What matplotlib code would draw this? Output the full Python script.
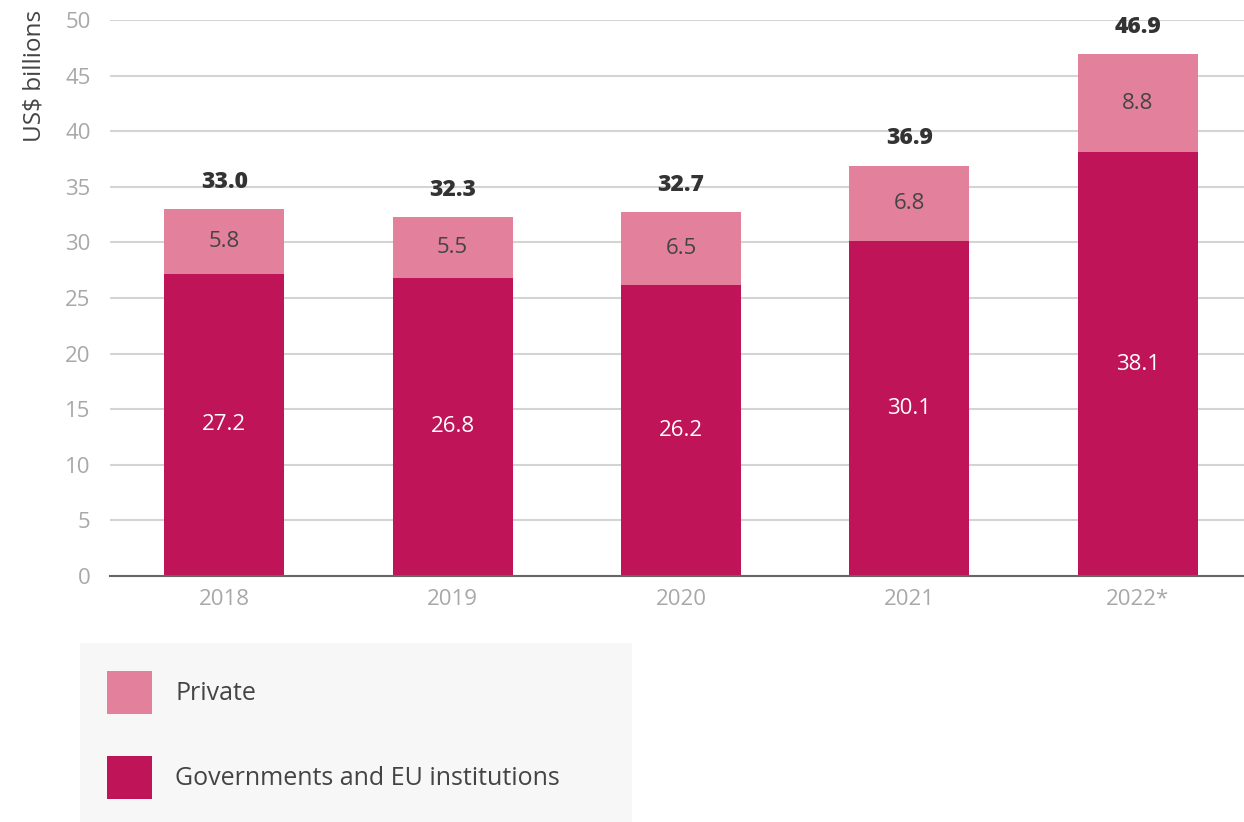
import matplotlib
matplotlib.use("Agg")
import matplotlib.pyplot as plt
from matplotlib.patches import Rectangle
import numpy as np

years = ["2018", "2019", "2020", "2021", "2022*"]
gov = [27.2, 26.8, 26.2, 30.1, 38.1]
private = [5.8, 5.5, 6.5, 6.8, 8.8]
totals = [33.0, 32.3, 32.7, 36.9, 46.9]

plt.rcParams['font.family'] = ['Open Sans', 'DejaVu Sans']

W, H = 1244, 822
fig = plt.figure(figsize=(W / 100, H / 100), dpi=100)
fig.patch.set_facecolor("white")

ax = fig.add_axes([110 / W, 1 - 576 / H, (1244 - 110) / W, (576 - 20) / H])

gov_c = "#C01458"
priv_c = "#E3809B"
x = np.arange(len(years))
bw = 0.525

b1 = ax.bar(x, gov, bw, color=gov_c, label="Governments and EU institutions", zorder=3)
b2 = ax.bar(x, private, bw, bottom=gov, color=priv_c, label="Private", zorder=3)

for i in range(len(years)):
    ax.text(x[i], gov[i] / 2, f"{gov[i]:.1f}", ha="center", va="center",
            color="white", fontsize=16, zorder=4)
    ax.text(x[i], gov[i] + private[i] / 2, f"{private[i]:.1f}", ha="center", va="center",
            color="#444444", fontsize=16, zorder=4)
    ax.annotate(f"{totals[i]:.1f}", (x[i], gov[i] + private[i]), xytext=(0, 11),
                textcoords="offset points", ha="center", va="bottom",
                fontsize=16.5, fontweight="heavy", color="#333333", zorder=5,
                annotation_clip=False)

ax.set_ylim(0, 50)
ax.set_xlim(-0.5, 4.465)
ax.set_yticks(np.arange(0, 51, 5))
ax.yaxis.grid(True, color="#d4d4d4", linewidth=1.5, zorder=0)
ax.set_axisbelow(True)
for s in ["top", "right", "left"]:
    ax.spines[s].set_visible(False)
ax.spines["bottom"].set_color("#666666")
ax.spines["bottom"].set_linewidth(1.5)
ax.spines["bottom"].set_zorder(4)
ax.set_xticks(x)
ax.set_xticklabels(years)
ax.tick_params(axis="both", length=0, labelsize=16, labelcolor="#a8a8a8")
ax.tick_params(axis="x", pad=9)
ax.tick_params(axis="y", pad=14)

fig.text(35 / W, 1 - 10 / H, "US$ billions", rotation=90, ha="center", va="top",
         fontsize=17.5, color="#444444")

# legend background
fig.patches.append(Rectangle((80 / W, 0), 552 / W, 179 / H, transform=fig.transFigure,
                             facecolor="#f7f7f7", edgecolor="none", zorder=0))
leg = fig.legend(handles=[b2, b1], labels=["Private", "Governments and EU institutions"],
                 loc="upper left", bbox_to_anchor=(107 / W, 1 - 671 / H),
                 frameon=False, fontsize=18, handlelength=1.8, handleheight=2.27,
                 labelspacing=1.68, handletextpad=0.92, borderpad=0, borderaxespad=0,
                 labelcolor="#444444")

fig.savefig("out.png", dpi=100)
